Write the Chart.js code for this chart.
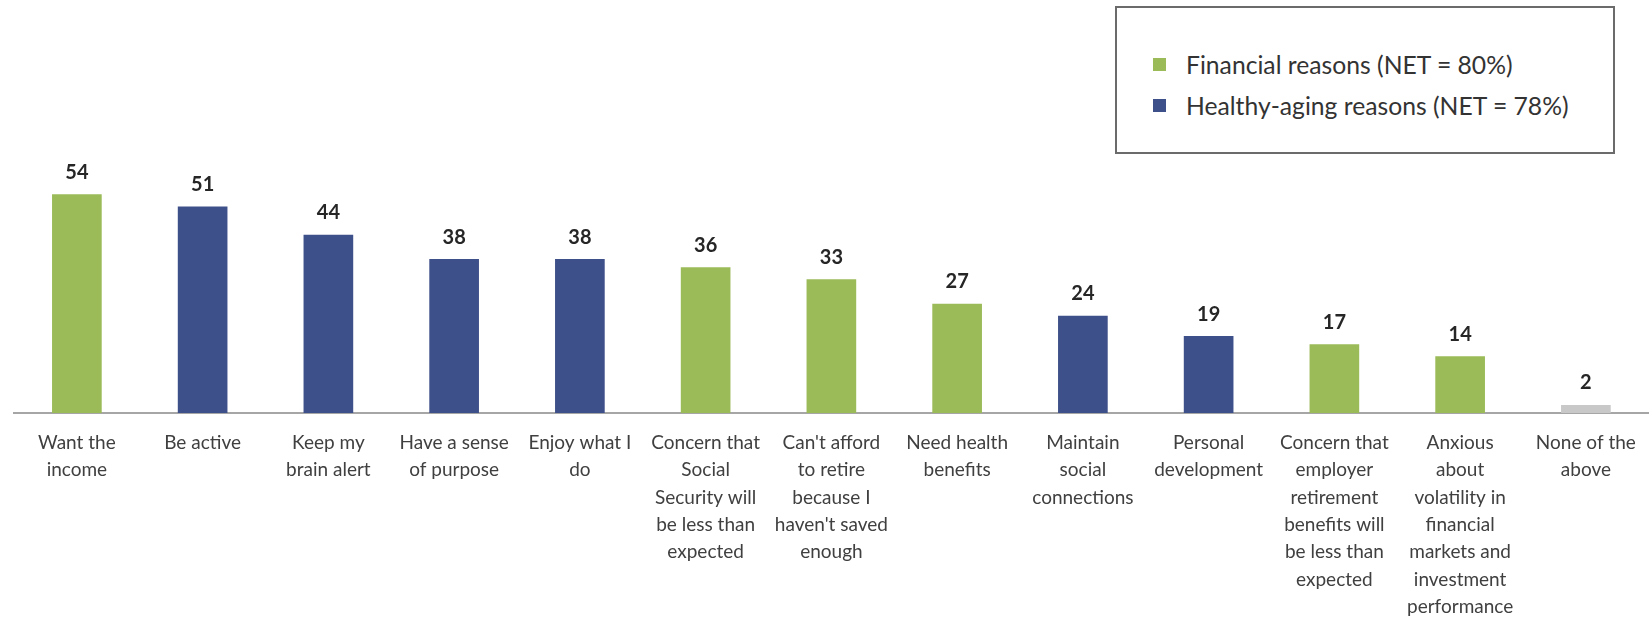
<!DOCTYPE html>
<html>
<head>
<meta charset="utf-8">
<script src="https://cdn.jsdelivr.net/npm/chart.js@4/dist/chart.umd.min.js"></script>
<style>
  html, body { margin: 0; padding: 0; background: #fff; }
  #wrap { position: relative; width: 1652px; height: 620px; overflow: hidden; }
  #legend {
    position: absolute; left: 1115px; top: 6px; width: 500px; height: 148px;
    border: 2px solid #6b6b6b; box-sizing: border-box; background: #fff;
    font-family: Lato, "Open Sans", sans-serif; font-size: 24.7px; color: #333;
    padding-top: 36px; padding-left: 36px;
  }
  .item { display: flex; align-items: center; height: 41px; }
  .swatch { width: 13px; height: 13px; margin-right: 20px; flex: none; }
</style>
</head>
<body>
<div id="wrap">
  <canvas id="chart" width="1652" height="620"></canvas>
  <div id="legend"></div>
</div>
<script>
// Data
const categories = [
  ["Want the", "income"],
  ["Be active"],
  ["Keep my", "brain alert"],
  ["Have a sense", "of purpose"],
  ["Enjoy what I", "do"],
  ["Concern that", "Social", "Security will", "be less than", "expected"],
  ["Can't afford", "to retire", "because I", "haven't saved", "enough"],
  ["Need health", "benefits"],
  ["Maintain", "social", "connections"],
  ["Personal", "development"],
  ["Concern that", "employer", "retirement", "benefits will", "be less than", "expected"],
  ["Anxious", "about", "volatility in", "financial", "markets and", "investment", "performance"],
  ["None of the", "above"]
];
const values = [54, 51, 44, 38, 38, 36, 33, 27, 24, 19, 17, 14, 2];
// F = financial, H = healthy-aging, N = none
const groups = ["F", "H", "H", "H", "H", "F", "F", "F", "H", "H", "F", "F", "N"];
const seriesNames = ["Financial reasons (NET = 80%)", "Healthy-aging reasons (NET = 78%)"];

const COLORS = { F: "#9BBB59", H: "#3E5089", N: "#C8C8C8" };

// Legend (HTML box)
const legendEl = document.getElementById("legend");
[["F", seriesNames[0]], ["H", seriesNames[1]]].forEach(([g, name]) => {
  const row = document.createElement("div");
  row.className = "item";
  row.innerHTML = `<span class="swatch" style="background:${COLORS[g]}"></span><span>${name}</span>`;
  legendEl.appendChild(row);
});

// Value labels above bars
const valueLabels = {
  id: "valueLabels",
  afterDatasetsDraw(chart) {
    const ctx = chart.ctx;
    const meta = chart.getDatasetMeta(0);
    ctx.save();
    ctx.font = "bold 20px Lato, 'Open Sans', sans-serif";
    ctx.fillStyle = "#262626";
    ctx.textAlign = "center";
    ctx.textBaseline = "bottom";
    meta.data.forEach((bar, i) => {
      ctx.fillText(values[i], bar.x, bar.y - 12);
    });
    ctx.restore();
  }
};

new Chart(document.getElementById("chart"), {
  type: "bar",
  data: {
    labels: categories,
    datasets: [{
      data: values,
      backgroundColor: groups.map((g) => COLORS[g]),
      categoryPercentage: 1,
      barPercentage: 0.395
    }]
  },
  options: {
    responsive: false,
    animation: false,
    layout: { padding: { left: 14, right: 3, top: 170 } },
    plugins: { legend: { display: false }, tooltip: { enabled: false } },
    scales: {
      x: {
        grid: { display: false, drawTicks: false },
        border: { color: "#a6a6a6", width: 2 },
        ticks: {
          autoSkip: false,
          maxRotation: 0,
          padding: 16,
          color: "#404040",
          font: { family: "Lato, 'Open Sans', sans-serif", size: 19, lineHeight: 1.44 }
        },
        afterFit(scale) { scale.height = 207; }
      },
      y: {
        display: false,
        min: 0,
        max: 60
      }
    }
  },
  plugins: [valueLabels]
});
</script>
</body>
</html>
